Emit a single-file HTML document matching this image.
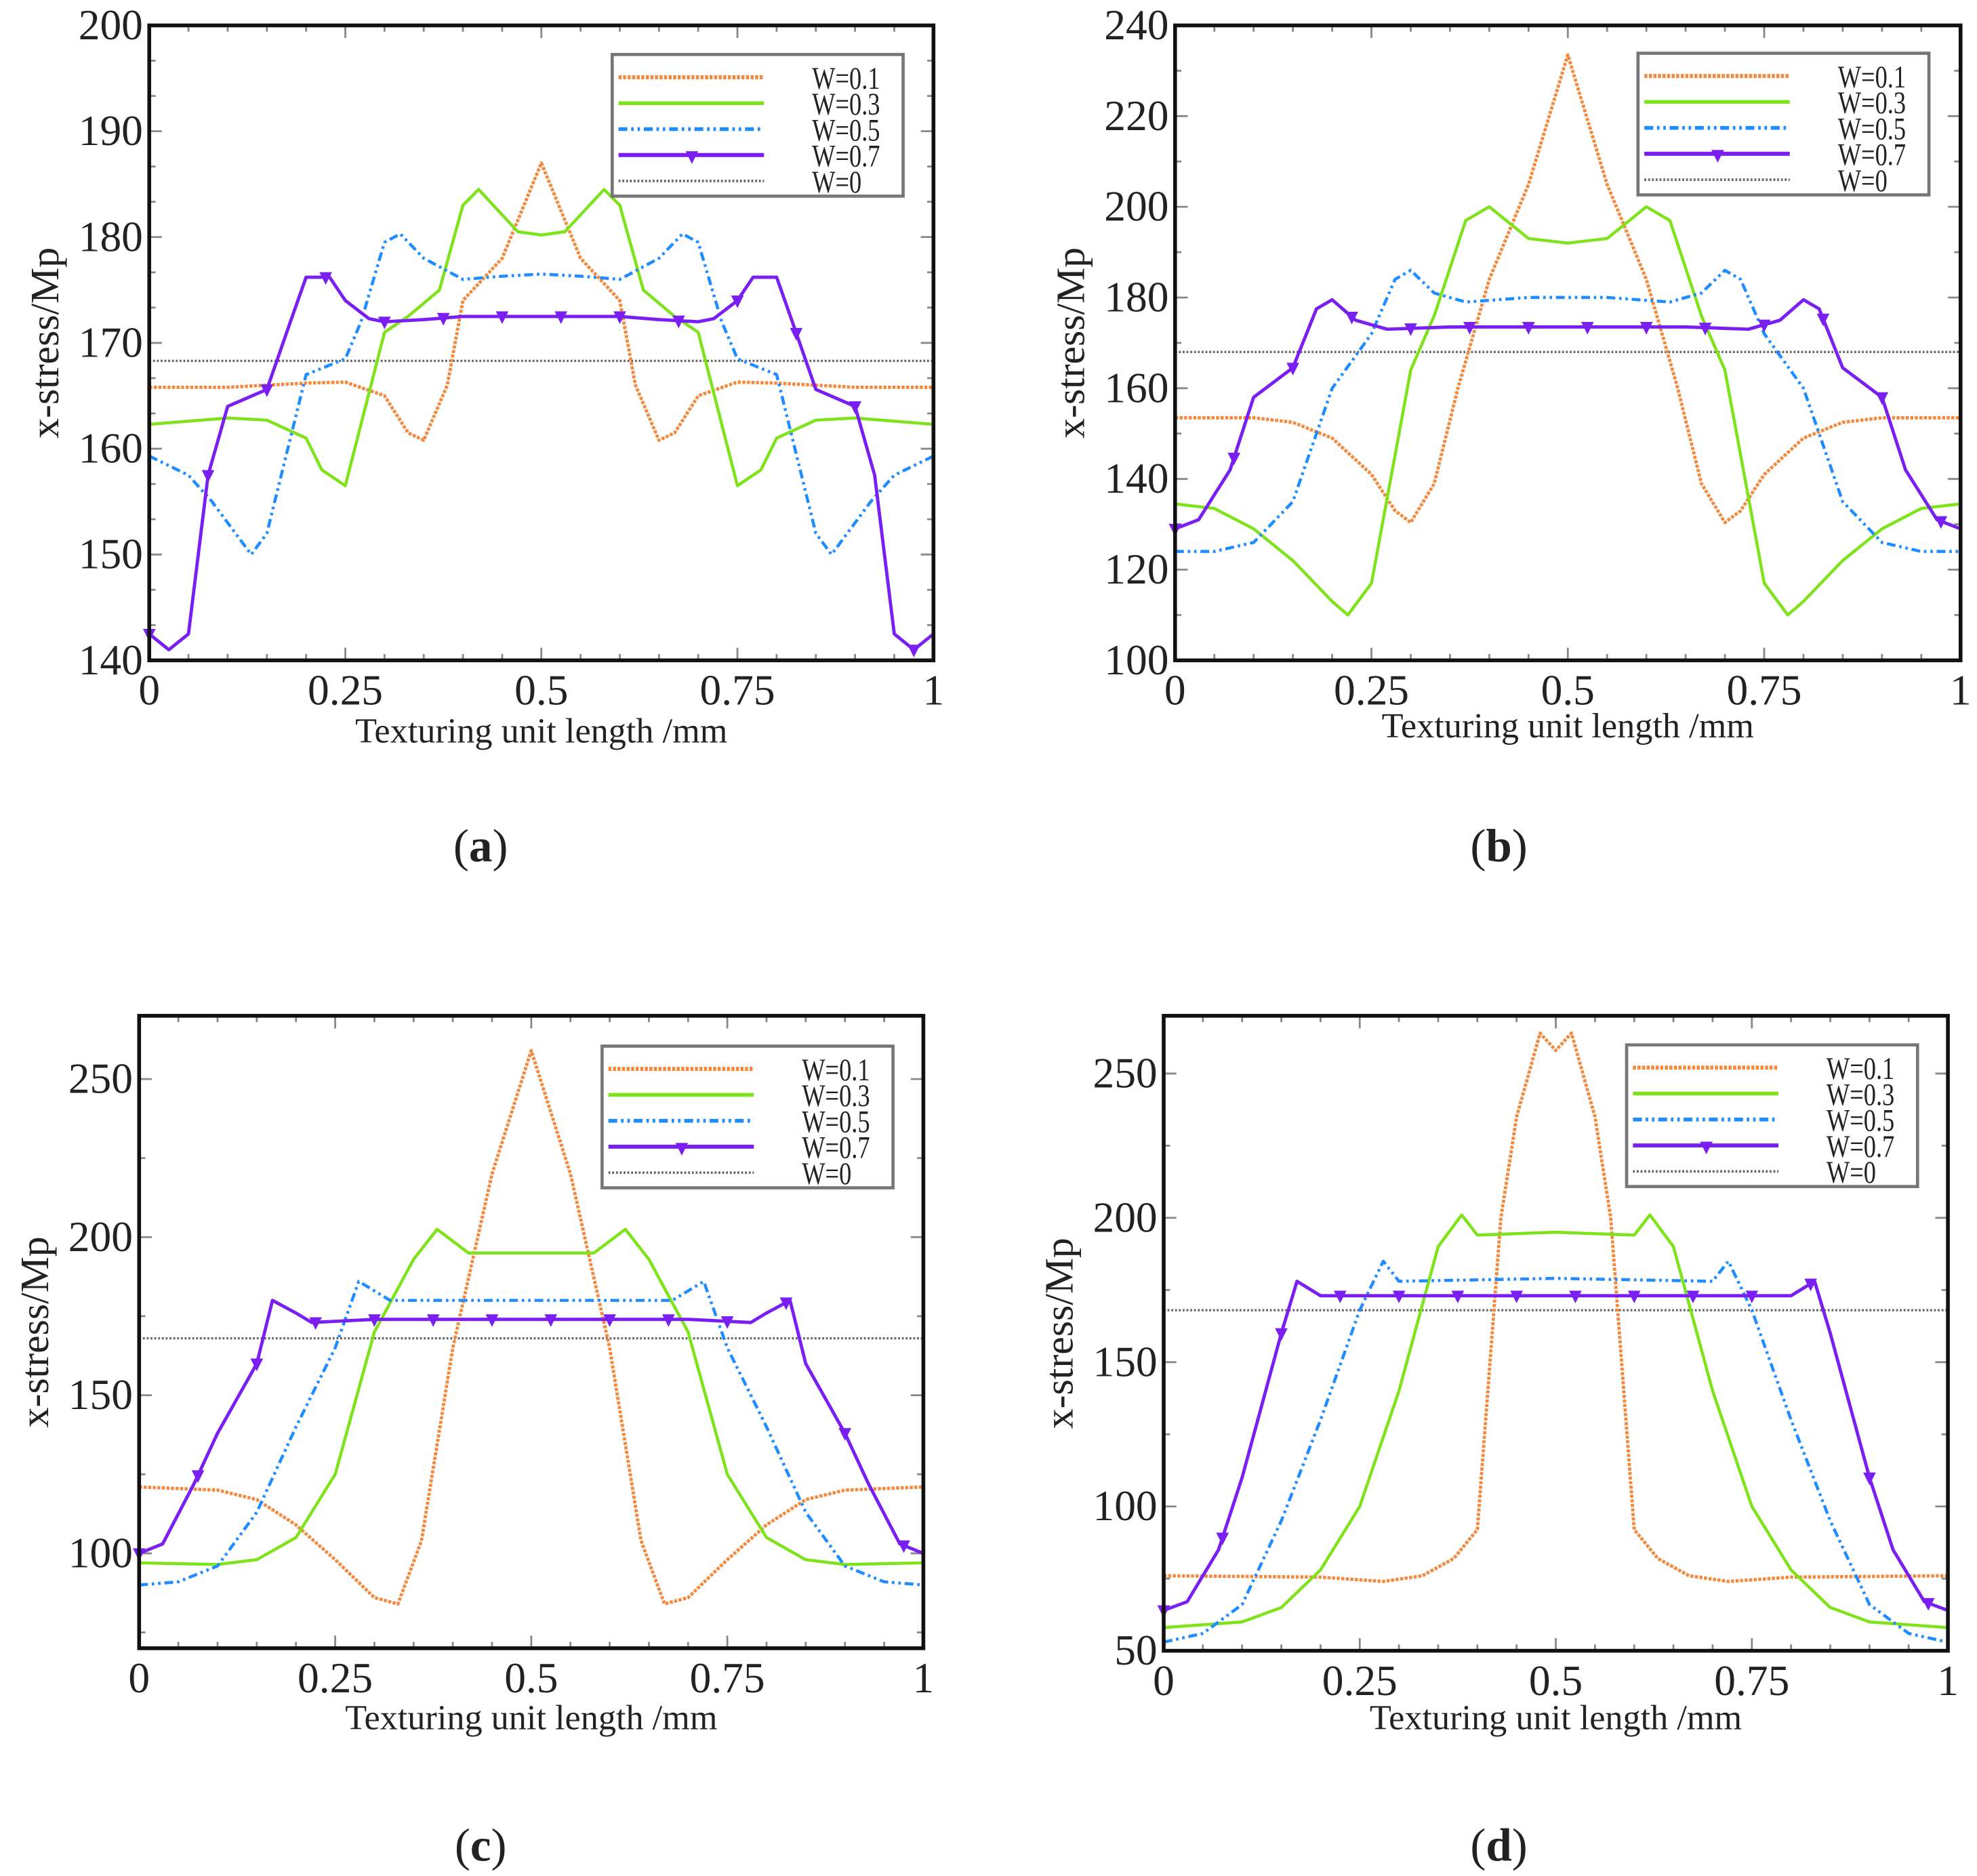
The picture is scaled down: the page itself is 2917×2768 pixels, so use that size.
<!DOCTYPE html>
<html><head><meta charset="utf-8">
<style>
html,body{margin:0;padding:0;background:#fff;}
svg{display:block;}
text{font-family:"Liberation Serif",serif;fill:#222;}
</style></head>
<body>
<svg id="fig" width="2917" height="2768" viewBox="0 0 1563 1483" xmlns="http://www.w3.org/2000/svg"></svg>
<script>
// ---------- DATA ----------
const seriesNames = ["W=0.1","W=0.3","W=0.5","W=0.7","W=0"];
const xTickLabels = ["0","0.25","0.5","0.75","1"];
// panel a
const aOrangeX=[0,0.1,0.2,0.25,0.3,0.33,0.35,0.38,0.4,0.45,0.5,0.55,0.6,0.62,0.65,0.67,0.7,0.75,0.8,0.9,1];
const aOrangeY=[165.8,165.8,166.2,166.3,165,161.5,160.8,166,174,178,187,178,174,166,160.8,161.5,165,166.3,166.2,165.8,165.8];
const aGreenX=[0,0.1,0.15,0.2,0.22,0.25,0.3,0.33,0.37,0.4,0.42,0.47,0.5,0.53,0.58,0.6,0.63,0.67,0.7,0.75,0.78,0.8,0.85,0.9,1];
const aGreenY=[162.3,162.9,162.7,161,158,156.5,171,172.5,175,183,184.5,180.5,180.2,180.5,184.5,183,175,172.5,171,156.5,158,161,162.7,162.9,162.3];
const aBlueX=[0,0.05,0.08,0.13,0.15,0.2,0.25,0.27,0.3,0.32,0.35,0.4,0.45,0.5,0.55,0.6,0.65,0.68,0.7,0.73,0.75,0.8,0.85,0.87,0.92,0.95,1];
const aBlueY=[159.3,157.5,155,150,152,167,168.5,172,179.5,180.3,178,176,176.3,176.5,176.3,176,178,180.3,179.5,172,168.5,167,152,150,155,157.5,159.3];
const aPurpleX=[0,0.025,0.05,0.075,0.1,0.15,0.18,0.2,0.23,0.25,0.28,0.3,0.35,0.4,0.5,0.6,0.65,0.7,0.72,0.75,0.77,0.8,0.82,0.85,0.9,0.925,0.95,0.975,1];
const aPurpleY=[142.5,141,142.5,157.5,164,165.6,172,176.2,176.2,174,172.3,172,172.2,172.5,172.5,172.5,172.2,172,172.3,174,176.2,176.2,172,165.6,164,157.5,142.5,141,142.5];
const aBase=[168.3];
// panel b
const bOrangeX=[0,0.1,0.15,0.2,0.25,0.28,0.3,0.33,0.36,0.4,0.45,0.5,0.55,0.6,0.64,0.67,0.7,0.72,0.75,0.8,0.85,0.9,1];
const bOrangeY=[153.5,153.5,152.5,149,141,133,130.4,139,160,184,205,233.5,205,184,160,139,130.4,133,141,149,152.5,153.5,153.5];
const bGreenX=[0,0.05,0.1,0.15,0.2,0.22,0.25,0.3,0.33,0.37,0.4,0.45,0.5,0.55,0.6,0.63,0.67,0.7,0.75,0.78,0.8,0.85,0.9,0.95,1];
const bGreenY=[134.5,133.5,129,122,113,110,117,164,176,197,200,193,192,193,200,197,176,164,117,110,113,122,129,133.5,134.5];
const bBlueX=[0,0.05,0.1,0.15,0.2,0.25,0.28,0.3,0.33,0.37,0.45,0.5,0.55,0.63,0.67,0.7,0.72,0.75,0.8,0.85,0.9,0.95,1];
const bBlueY=[124,124,126,135,160,172,184,186,181,179,180,180,180,179,181,186,184,172,160,135,126,124,124];
const bPurpleX=[0,0.03,0.07,0.1,0.15,0.18,0.2,0.23,0.27,0.35,0.5,0.65,0.73,0.77,0.8,0.82,0.85,0.9,0.93,0.97,1];
const bPurpleY=[129,131,142,158,164.5,177.5,179.5,175,173,173.5,173.5,173.5,173,175,179.5,177.5,164.5,158,142,131,129];
const bBase=[168];
// panel c
const cOrangeX=[0,0.1,0.15,0.2,0.25,0.3,0.33,0.36,0.4,0.45,0.5,0.55,0.6,0.64,0.67,0.7,0.75,0.8,0.85,0.9,1];
const cOrangeY=[121,120,117,109,98,86,84,104,165,220,259,220,165,104,84,86,98,109,117,120,121];
const cGreenX=[0,0.1,0.15,0.2,0.25,0.3,0.35,0.38,0.42,0.5,0.58,0.62,0.65,0.7,0.75,0.8,0.85,0.9,1];
const cGreenY=[97,96.5,98,105,125,170,193,202.5,195,195,195,202.5,193,170,125,105,98,96.5,97];
const cBlueX=[0,0.05,0.1,0.15,0.2,0.25,0.28,0.32,0.4,0.5,0.6,0.68,0.72,0.75,0.8,0.85,0.9,0.95,1];
const cBlueY=[90,91,96,113,140,165,186,180,180,180,180,180,186,165,140,113,96,91,90];
const cPurpleX=[0,0.03,0.07,0.1,0.15,0.17,0.2,0.22,0.3,0.5,0.7,0.78,0.8,0.83,0.85,0.9,0.93,0.97,1];
const cPurpleY=[100,103,122,138,160,180,176,173,174,174,174,173,176,180,160,138,122,103,100];
const cBase=[168];
// panel d
const dOrangeX=[0,0.2,0.28,0.33,0.37,0.4,0.43,0.45,0.48,0.5,0.52,0.55,0.57,0.6,0.63,0.67,0.72,0.8,1];
const dOrangeY=[76,75.5,74,76,82,92,200,235,264,258,264,235,200,92,82,76,74,75.5,76];
const dGreenX=[0,0.1,0.15,0.2,0.25,0.3,0.35,0.38,0.4,0.5,0.6,0.62,0.65,0.7,0.75,0.8,0.85,0.9,1];
const dGreenY=[58,60,65,78,100,140,190,201,194,195,194,201,190,140,100,78,65,60,58];
const dBlueX=[0,0.05,0.1,0.15,0.2,0.25,0.28,0.3,0.5,0.7,0.72,0.75,0.8,0.85,0.9,0.95,1];
const dBlueY=[53,56,66,95,130,168,185,178,179,178,185,168,130,95,66,56,53];
const dPurpleX=[0,0.03,0.07,0.1,0.15,0.17,0.2,0.5,0.8,0.83,0.85,0.9,0.93,0.97,1];
const dPurpleY=[64,67,85,110,160,178,173,173,173,178,160,110,85,67,64];
const dBase=[168];
// y ticks
const aYTicks=[140,150,160,170,180,190,200];
const bYTicks=[100,120,140,160,180,200,220,240];
const cYTicks=[100,150,200,250];
const dYTicks=[50,100,150,200,250];

// ---------- DRAW ----------
const NS="http://www.w3.org/2000/svg";
const svg=document.getElementById('fig');
function mk(tag,attrs,parent){const e=document.createElementNS(NS,tag);for(const k in attrs)e.setAttribute(k,attrs[k]);(parent||svg).appendChild(e);return e;}
const colors=["#f5883a","#7fe31c","#1f8cff","#7a1ff2","#666"];
const dashes=["2.4,1.2","","7,3,2,3,2,3","","1.5,1.5"];
const widths=[2.6,2.4,2.4,2.6,1.8];
function interp(xs,ys,x){for(let i=1;i<xs.length;i++){if(x<=xs[i]){const t=(x-xs[i-1])/(xs[i]-xs[i-1]);return ys[i-1]+t*(ys[i]-ys[i-1]);}}return ys[ys.length-1];}

const panels=[
 {id:'a',L:118,R:738,T:20,B:522,ymin:140,ymax:200,yt:aYTicks,minor:3,S:[[aOrangeX,aOrangeY],[aGreenX,aGreenY],[aBlueX,aBlueY],[aPurpleX,aPurpleY]],base:aBase,leg:[484,43],xl:578,cap:[380,668]},
 {id:'b',L:929,R:1550,T:20,B:522,ymin:100,ymax:240,yt:bYTicks,minor:2,S:[[bOrangeX,bOrangeY],[bGreenX,bGreenY],[bBlueX,bBlueY],[bPurpleX,bPurpleY]],base:bBase,leg:[1295,42],xl:574,cap:[1185,668]},
 {id:'c',L:110,R:730,T:803,B:1303,ymin:70,ymax:270,yt:cYTicks,minor:2,S:[[cOrangeX,cOrangeY],[cGreenX,cGreenY],[cBlueX,cBlueY],[cPurpleX,cPurpleY]],base:cBase,leg:[476,827],xl:1358,cap:[380,1458]},
 {id:'d',L:920,R:1540,T:803,B:1305,ymin:50,ymax:270,yt:dYTicks,minor:2,S:[[dOrangeX,dOrangeY],[dGreenX,dGreenY],[dBlueX,dBlueY],[dPurpleX,dPurpleY]],base:dBase,leg:[1286,826],xl:1358,cap:[1185,1458]}
];

panels.forEach(p=>{
 const g=mk('g',{});
 
 
 const X=v=>p.L+v*(p.R-p.L);
 const Y=v=>p.B-(v-p.ymin)/(p.ymax-p.ymin)*(p.B-p.T);
 for(let i=0;i<=20;i++){const x=X(i/20);const maj=i%5===0;const len=maj?10:5;
  const t1=mk('line',{x1:x,x2:x,y1:p.B,y2:p.B-len,stroke:'#888','stroke-width':1.5},g);
  
  const t2=mk('line',{x1:x,x2:x,y1:p.T,y2:p.T+len,stroke:'#888','stroke-width':1.5},g);
  }
 const step=p.yt[1]-p.yt[0];
 for(let v=p.yt[0]-step;v<=p.ymax+0.001;v+=step/p.minor){if(v<p.ymin-0.001)continue;const y=Y(v);const maj=Math.abs(((v-p.yt[0])/step)-Math.round((v-p.yt[0])/step))<1e-6;const len=maj?10:5;
  const t1=mk('line',{x1:p.L,x2:p.L+len,y1:y,y2:y,stroke:'#888','stroke-width':1.5},g);
  
  const t2=mk('line',{x1:p.R,x2:p.R-len,y1:y,y2:y,stroke:'#888','stroke-width':1.5},g);
  }
 xTickLabels.forEach((s,i)=>{const t=mk('text',{x:X(i*0.25),y:p.B+35,'font-size':34,'text-anchor':'middle'},g);t.textContent=s;
  });
 p.yt.forEach(v=>{const t=mk('text',{x:p.L-5,y:Y(v)+11,'font-size':34,'text-anchor':'end'},g);t.textContent=v;
  });
 const yt=mk('text',{x:0,y:0,'font-size':32,'text-anchor':'middle',transform:`translate(${p.L-72},${(p.T+p.B)/2}) rotate(-90)`},g);yt.textContent='x-stress/Mp';
 
 const xt=mk('text',{x:(p.L+p.R)/2,y:p.xl+9,'font-size':28,'text-anchor':'middle'},g);xt.textContent='Texturing unit length /mm';
 
 const bl=mk('line',{x1:p.L,x2:p.R,y1:Y(p.base[0]),y2:Y(p.base[0]),stroke:colors[4],'stroke-width':widths[4],'stroke-dasharray':dashes[4]},g);
 
 p.S.forEach((s,k)=>{const d=s[0].map((x,i)=>(i?'L':'M')+X(x).toFixed(1)+','+Y(s[1][i]).toFixed(1)).join(' ');
  const a={d:d,fill:'none',stroke:colors[k],'stroke-width':widths[k],'stroke-linejoin':'round'};if(dashes[k])a['stroke-dasharray']=dashes[k];
  const path=mk('path',a,g);
  if(k===3){for(let m=0;m<=1.0001;m+=0.075){const x=X(m),y=Y(interp(s[0],s[1],m));
   const tri=mk('path',{d:`M${x-5},${y-4} L${x+5},${y-4} L${x},${y+6} Z`,fill:colors[3]},g);
   }}
 });
 const fr=mk('rect',{x:p.L,y:p.T,width:p.R-p.L,height:p.B-p.T,fill:'none',stroke:'#111','stroke-width':3},g);
 
 const lg=mk('g',{},g);
 const [lx,ly]=p.leg;
 const lr=mk('rect',{x:lx,y:ly,width:230,height:112,fill:'#fff',stroke:'#777','stroke-width':2.5},lg);
 
 seriesNames.forEach((n,k)=>{const yy=ly+18+k*20.5;
  const a={x1:lx+5,x2:lx+120,y1:yy,y2:yy,stroke:colors[k],'stroke-width':k===4?2:widths[k]+0.6};if(dashes[k])a['stroke-dasharray']=dashes[k];
  const ln=mk('line',a,lg);
  if(k===3){const tri=mk('path',{d:`M${lx+58},${yy-3} L${lx+68},${yy-3} L${lx+63},${yy+7} Z`,fill:colors[3]},lg);}
  const t=mk('text',{x:lx+158,y:yy+9,'font-size':25,transform:`translate(${lx+158},0) scale(0.78,1) translate(${-(lx+158)},0)`},lg);t.textContent=n;
  });
 const c=mk('text',{x:p.cap[0],y:p.cap[1]+13,'font-size':37,'text-anchor':'middle'},g);
 c.innerHTML='(<tspan font-weight="bold">'+p.id+'</tspan>)';
 
});
</script>
</body></html>
